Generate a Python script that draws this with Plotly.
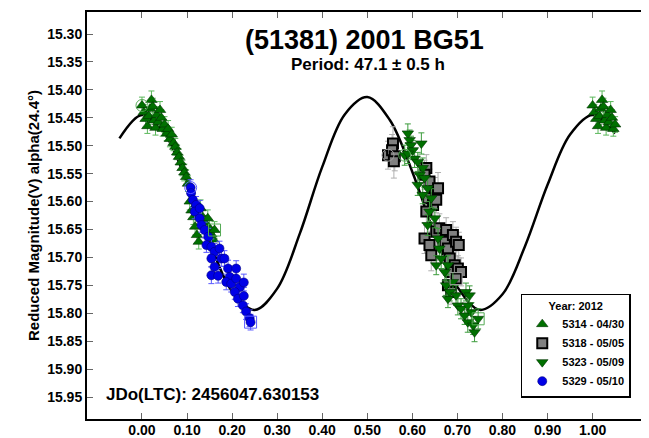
import plotly.graph_objects as go

# ---------------- data ----------------
fit_phase = [-0.05, 0.00, 0.05, 0.10, 0.15, 0.20, 0.25, 0.30, 0.35, 0.40, 0.45, 0.50,
             0.55, 0.60, 0.65, 0.70, 0.75, 0.80, 0.85, 0.90, 0.95, 1.00, 1.05]
fit_mag = [15.487, 15.445, 15.478, 15.566, 15.673, 15.761, 15.794, 15.756, 15.658, 15.538,
           15.444, 15.413, 15.454, 15.547, 15.660, 15.753, 15.794, 15.766, 15.680, 15.570,
           15.480, 15.445, 15.478]

# 5314 - 04/30 (green up-triangles)
a_phase = [0.000, 0.004, 0.008, 0.012, 0.015, 0.018, 0.021, 0.024, 0.027, 0.030, 0.033, 0.036,
           0.040, 0.043, 0.046, 0.050, 0.055, 0.058, 0.062, 0.066, 0.070, 0.074, 0.078, 0.082,
           0.086, 0.090, 0.094, 0.098, 0.102, 0.106, 0.110, 0.114, 0.118, 0.122, 0.126, 0.130,
           0.135, 0.140, 0.146, 0.150, 0.154, 0.158, 0.161]
a_mag = [15.428, 15.440, 15.452, 15.465, 15.447, 15.434, 15.418, 15.430, 15.455, 15.468, 15.445, 15.458,
         15.436, 15.450, 15.470, 15.462, 15.478, 15.470, 15.488, 15.480, 15.495, 15.502, 15.512, 15.520,
         15.530, 15.540, 15.548, 15.556, 15.568, 15.600, 15.616, 15.628, 15.645, 15.660, 15.672, 15.612,
         15.628, 15.638, 15.630, 15.648, 15.659, 15.668, 15.651]
a_err = [0.015, 0.014, 0.015, 0.013, 0.015, 0.014, 0.016, 0.015, 0.014, 0.013, 0.015, 0.014,
         0.015, 0.014, 0.013, 0.014, 0.013, 0.015, 0.014, 0.013, 0.014, 0.015, 0.013, 0.014,
         0.013, 0.014, 0.015, 0.013, 0.014, 0.015, 0.014, 0.013, 0.015, 0.014, 0.013, 0.015,
         0.014, 0.013, 0.015, 0.014, 0.013, 0.014, 0.015]

# 5318 - 05/05 (gray squares)
b_phase = [0.546, 0.557, 0.555, 0.561, 0.559, 0.631, 0.627, 0.638, 0.650, 0.657, 0.635, 0.646,
           0.653, 0.631, 0.627, 0.638, 0.642, 0.653, 0.660, 0.675, 0.672, 0.679, 0.690, 0.697,
           0.703, 0.683, 0.694, 0.686, 0.701, 0.708, 0.679, 0.686, 0.697]
b_mag = [15.517, 15.496, 15.508, 15.519, 15.528, 15.540, 15.552, 15.564, 15.582, 15.576, 15.594, 15.606,
         15.597, 15.618, 15.666, 15.678, 15.696, 15.654, 15.648, 15.651, 15.672, 15.684, 15.660, 15.672,
         15.678, 15.702, 15.714, 15.726, 15.720, 15.726, 15.750, 15.762, 15.738]
b_err = [0.025, 0.030, 0.028, 0.026, 0.030, 0.024, 0.026, 0.022, 0.025, 0.028, 0.024, 0.026,
         0.023, 0.025, 0.027, 0.025, 0.028, 0.024, 0.026, 0.022, 0.025, 0.027, 0.024, 0.026,
         0.023, 0.025, 0.024, 0.026, 0.023, 0.025, 0.024, 0.022, 0.025]

# 5323 - 05/09 (green down-triangles)
c_phase = [0.583, 0.590, 0.594, 0.597, 0.620, 0.601, 0.590, 0.605, 0.612, 0.623, 0.616, 0.612,
           0.627, 0.634, 0.623, 0.642, 0.638, 0.634, 0.650, 0.657, 0.660, 0.653, 0.664, 0.672,
           0.679, 0.675, 0.683, 0.690, 0.697, 0.679, 0.701, 0.708, 0.719, 0.727, 0.723, 0.716,
           0.731, 0.723, 0.735, 0.738, 0.746]
c_mag = [15.517, 15.478, 15.490, 15.499, 15.496, 15.508, 15.514, 15.523, 15.529, 15.540, 15.552, 15.570,
         15.558, 15.576, 15.588, 15.594, 15.618, 15.642, 15.630, 15.666, 15.684, 15.714, 15.702, 15.726,
         15.714, 15.750, 15.762, 15.744, 15.768, 15.774, 15.786, 15.792, 15.762, 15.768, 15.786, 15.804,
         15.798, 15.816, 15.822, 15.834, 15.810]
c_err = [0.018, 0.017, 0.018, 0.016, 0.019, 0.017, 0.018, 0.016, 0.017, 0.018, 0.016, 0.019,
         0.017, 0.018, 0.016, 0.017, 0.018, 0.019, 0.017, 0.018, 0.016, 0.017, 0.018, 0.016,
         0.017, 0.018, 0.016, 0.017, 0.018, 0.016, 0.017, 0.018, 0.016, 0.017, 0.018, 0.016,
         0.017, 0.018, 0.016, 0.017, 0.018]

# 5329 - 05/10 (blue circles)
d_phase = [0.108, 0.109, 0.113, 0.120, 0.117, 0.128, 0.128, 0.132, 0.139, 0.147, 0.143, 0.154,
           0.161, 0.172, 0.176, 0.154, 0.161, 0.183, 0.191, 0.195, 0.209, 0.154, 0.169, 0.187,
           0.198, 0.209, 0.217, 0.226, 0.206, 0.213, 0.226, 0.224, 0.231, 0.239, 0.241]
d_mag = [15.575, 15.585, 15.597, 15.606, 15.618, 15.612, 15.630, 15.642, 15.651, 15.663, 15.678, 15.681,
         15.690, 15.684, 15.702, 15.702, 15.717, 15.702, 15.720, 15.735, 15.720, 15.732, 15.733, 15.744,
         15.747, 15.738, 15.753, 15.745, 15.762, 15.774, 15.769, 15.786, 15.797, 15.809, 15.816]
d_err = [0.014, 0.013, 0.014, 0.015, 0.013, 0.014, 0.015, 0.013, 0.014, 0.015, 0.013, 0.014,
         0.015, 0.013, 0.014, 0.015, 0.013, 0.014, 0.015, 0.013, 0.014, 0.015, 0.013, 0.014,
         0.015, 0.013, 0.014, 0.015, 0.013, 0.014, 0.015, 0.013, 0.014, 0.015, 0.014]

x_ticks = [0.00, 0.10, 0.20, 0.30, 0.40, 0.50, 0.60, 0.70, 0.80, 0.90, 1.00]
y_ticks = [15.30, 15.35, 15.40, 15.45, 15.50, 15.55, 15.60, 15.65, 15.70, 15.75, 15.80, 15.85, 15.90, 15.95]

legend_names = ["5314 - 04/30", "5318 - 05/05", "5323 - 05/09", "5329 - 05/10"]

FONT = "Liberation Sans, Arial, sans-serif"

# phases near 0 are repeated past 1.0
a_phase_all = a_phase + [p + 1.0 for p in a_phase if p <= 0.05]
a_mag_all = a_mag + [m for p, m in zip(a_phase, a_mag) if p <= 0.05]
a_err_all = a_err + [e for p, e in zip(a_phase, a_err) if p <= 0.05]

fig = go.Figure()

fig.add_trace(go.Scatter(x=fit_phase, y=fit_mag, mode="lines", line=dict(color="black", width=2.5, shape="spline"),
                         showlegend=False, hoverinfo="skip"))

def series(x, y, err, name, symbol, color, errcolor, size, lcolor, lwidth):
    return go.Scatter(
        x=x, y=y, mode="markers", name=name,
        marker=dict(symbol=symbol, size=size, color=color, line=dict(color=lcolor, width=lwidth)),
        error_y=dict(type="data", array=err, visible=True, color=errcolor, thickness=1, width=3),
    )

fig.add_trace(series(a_phase_all, a_mag_all, a_err_all, legend_names[0], "triangle-up", "#007000", "#5cb85c", 10, "#003300", 0.6))
fig.add_trace(series(b_phase, b_mag, b_err, legend_names[1], "square", "#808080", "#b0b0b0", 10, "black", 2))
fig.add_trace(series(c_phase, c_mag, c_err, legend_names[2], "triangle-down", "#007000", "#3c9c3c", 10, "#003300", 0.6))
fig.add_trace(series(d_phase, d_mag, d_err, legend_names[3], "circle", "#0000e6", "#5a5aff", 9, "#000080", 0.6))

# first (open circle) and last (open square) point of each session
first_x = [a_phase[0], b_phase[0], c_phase[0], d_phase[0]]
first_y = [a_mag[0], b_mag[0], c_mag[0], d_mag[0]]
last_x = [a_phase[-1], b_phase[-1], c_phase[-1], d_phase[-1]]
last_y = [a_mag[-1], b_mag[-1], c_mag[-1], d_mag[-1]]
open_cols = ["#55aa55", "#a0a0a0", "#55aa55", "#5a5aff"]
fig.add_trace(go.Scatter(x=first_x, y=first_y, mode="markers", showlegend=False, hoverinfo="skip",
                         marker=dict(symbol="circle-open", size=12, color=open_cols, line=dict(width=1))))
fig.add_trace(go.Scatter(x=last_x, y=last_y, mode="markers", showlegend=False, hoverinfo="skip",
                         marker=dict(symbol="square-open", size=12, color=open_cols, line=dict(width=1))))

axis_common = dict(showline=True, linecolor="black", linewidth=2, mirror="ticks", ticks="inside",
                   ticklen=6, tickcolor="#666666", tickwidth=1, showgrid=False, zeroline=False,
                   automargin=False,
                   tickfont=dict(family=FONT, size=14, color="black", weight="bold"))

fig.update_layout(
    width=649, height=438,
    margin=dict(l=79, r=10, t=4, b=27),
    paper_bgcolor="white", plot_bgcolor="white",
    font=dict(family=FONT, color="black"),
    xaxis=dict(range=[-0.122, 1.1207], tickvals=x_ticks, tickformat=".2f", ticklabelstandoff=-3, **axis_common),
    yaxis=dict(range=[15.9894, 15.2606], tickvals=y_ticks, tickformat=".2f",
               title=dict(text="Reduced Magnitude(V) alpha(24.4°)", font=dict(family=FONT, size=15, weight="bold"),
                          standoff=4),
               **axis_common),
    legend=dict(x=0.971, y=0.052, xanchor="right", yanchor="bottom", bgcolor="white",
                bordercolor="black", borderwidth=1.5,
                font=dict(family=FONT, size=11, weight="bold"),
                title=dict(text="Year: 2012", side="top center", font=dict(family=FONT, size=11, weight="bold")),
                itemwidth=30, tracegroupgap=0),
    annotations=[
        dict(text="(51381) 2001 BG51", x=0.495, y=0.931, xref="paper", yref="paper", showarrow=False,
             xanchor="center", yanchor="middle", font=dict(family=FONT, size=27, weight="bold")),
        dict(text="Period: 47.1 ± 0.5 h", x=0.502, y=0.872, xref="paper", yref="paper", showarrow=False,
             xanchor="center", yanchor="middle", font=dict(family=FONT, size=17, weight="bold")),
        dict(text="JDo(LTC): 2456047.630153", x=0.03, y=0.061, xref="paper", yref="paper", showarrow=False,
             xanchor="left", yanchor="middle", font=dict(family=FONT, size=17, weight="bold")),
    ],
)

fig.write_html("out.html")
